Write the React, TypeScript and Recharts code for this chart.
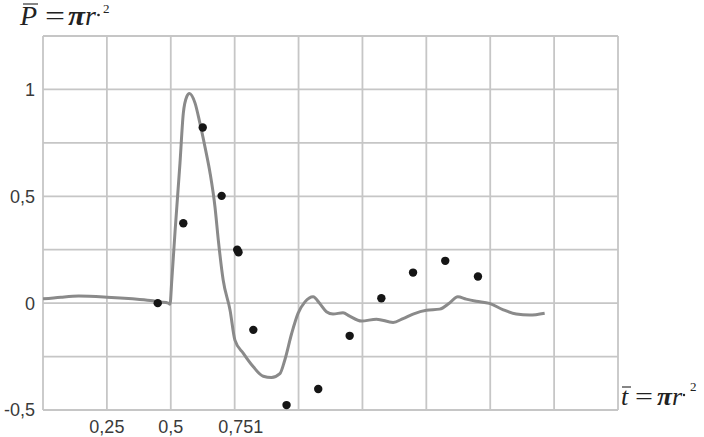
import React from 'react';
import { ComposedChart, Line, Scatter, XAxis, YAxis, CartesianGrid } from 'recharts';

// Continuous curve (t, P)
const curveT = [0, 0.07, 0.14, 0.25, 0.35, 0.42, 0.46, 0.49, 0.497, 0.504, 0.517, 0.536, 0.549, 0.5625, 0.573, 0.595, 0.614, 0.634, 0.654, 0.673, 0.686, 0.705, 0.732, 0.751, 0.784, 0.823, 0.862, 0.894, 0.927, 0.946, 0.973, 0.998, 1.025, 1.057, 1.083, 1.109, 1.135, 1.174, 1.2, 1.246, 1.305, 1.37, 1.409, 1.448, 1.5, 1.552, 1.591, 1.623, 1.656, 1.695, 1.747, 1.799, 1.852, 1.904, 1.963];
const curveP = [0.02, 0.028, 0.033, 0.028, 0.02, 0.012, 0.005, 0.0, -0.005, 0.108, 0.34, 0.655, 0.888, 0.966, 0.981, 0.936, 0.842, 0.73, 0.607, 0.45, 0.295, 0.108, -0.033, -0.173, -0.235, -0.298, -0.342, -0.348, -0.33, -0.267, -0.142, -0.048, 0.006, 0.03, -0.002, -0.04, -0.051, -0.045, -0.061, -0.084, -0.075, -0.09, -0.072, -0.051, -0.033, -0.028, 0.001, 0.03, 0.019, 0.009, -0.001, -0.03, -0.051, -0.056, -0.047];

// Measured points (t, P)
const pointT = [0.449, 0.549, 0.625, 0.699, 0.76, 0.765, 0.823, 0.953, 1.077, 1.2, 1.324, 1.448, 1.574, 1.702];
const pointP = [0.0, 0.374, 0.822, 0.502, 0.25, 0.238, -0.125, -0.477, -0.402, -0.153, 0.023, 0.143, 0.198, 0.125];

const xGridTicks = [0, 0.25, 0.5, 0.75, 1, 1.25, 1.5, 1.75, 2, 2.25];
const xTickValues = [0.25, 0.5, 0.75];
const xTickTexts = ['0,25', '0,5', '0,751'];
const yGridTicks = [-0.5, -0.25, 0, 0.25, 0.5, 0.75, 1, 1.25];
const yTickValues = [-0.5, 0, 0.5, 1];
const yTickTexts = ['-0,5', '0', '0,5', '1'];

const curveData = curveT.map((t, i) => ({ t, p: curveP[i] }));
const pointData = pointT.map((t, i) => ({ t, p: pointP[i] }));

const labelFont = '"Liberation Sans", Arial, sans-serif';
const textColor = '#3a3a3a';

const XTick = (props: any) => {
  const { x, y, payload } = props;
  const idx = xTickValues.indexOf(payload.value);
  if (idx < 0) return null;
  const dx = idx === 2 ? 6 : 0;
  return (
    <text x={x + dx} y={y} dy="0.71em" textAnchor="middle" fontSize={18} fontFamily={labelFont} fill={textColor}>
      {xTickTexts[idx]}
    </text>
  );
};

const YTick = (props: any) => {
  const { x, y, payload } = props;
  const idx = yTickValues.indexOf(payload.value);
  if (idx < 0) return null;
  return (
    <text x={x} y={y} dy="0.355em" textAnchor="end" fontSize={18} fontFamily={labelFont} fill={textColor}>
      {yTickTexts[idx]}
    </text>
  );
};

const Dot = (props: any) => {
  const { cx, cy } = props;
  return <circle cx={cx} cy={cy} r={4.2} fill="#151515" />;
};

const serif = '"Liberation Serif", "Times New Roman", serif';
const ink = '#222';

export default function App() {
  return (
    <div style={{ position: 'absolute', left: 0, top: 0, width: 704, height: 437, background: '#fff', overflow: 'hidden' }}>
      <ComposedChart width={704} height={437} margin={{ top: 36, right: 86, bottom: 0, left: 0 }}>
        <CartesianGrid stroke="#c6c6c6" strokeWidth={1.8} horizontalValues={yGridTicks} verticalValues={xGridTicks} />
        <XAxis
          type="number"
          dataKey="t"
          domain={[0, 2.25]}
          ticks={xGridTicks}
          interval={0}
          height={27}
          axisLine={false}
          tickLine={false}
          tickSize={0}
          tickMargin={10}
          tick={<XTick />}
          allowDataOverflow
        />
        <YAxis
          type="number"
          dataKey="p"
          domain={[-0.5, 1.25]}
          ticks={yGridTicks}
          interval={0}
          width={43}
          axisLine={false}
          tickLine={false}
          tickSize={0}
          tickMargin={8}
          tick={<YTick />}
          allowDataOverflow
        />
        <Line data={curveData} dataKey="p" type="monotone" stroke="#8a8a8a" strokeWidth={3} dot={false} isAnimationActive={false} />
        <Scatter data={pointData} dataKey="p" shape={<Dot />} isAnimationActive={false} />
      </ComposedChart>
      <svg width={704} height={437} style={{ position: 'absolute', left: 0, top: 0, pointerEvents: 'none' }}>
        <g fontFamily={serif} fill={ink}>
          <text x={20} y={25} fontSize={28} fontStyle="italic">P</text>
          <line x1={23} x2={38} y1={4} y2={4} stroke="#444" strokeWidth={1.3} />
          <text x={45} y={25} fontSize={28} textLength={20} lengthAdjust="spacingAndGlyphs">=</text>
          <text x={68} y={25} fontSize={28} fontStyle="italic" fontWeight="bold" textLength={17} lengthAdjust="spacingAndGlyphs">π</text>
          <text x={85} y={25} fontSize={28} fontStyle="italic">r</text>
          <circle cx={98.5} cy={15} r={1.3} fill={ink} />
          <text x={103} y={13} fontSize={13}>2</text>
        </g>
        <g fontFamily={serif} fill={ink}>
          <text x={621} y={405} fontSize={26} fontStyle="italic">t</text>
          <line x1={622} x2={631} y1={387} y2={387} stroke="#444" strokeWidth={1.3} />
          <text x={635} y={405} fontSize={26} textLength={18} lengthAdjust="spacingAndGlyphs">=</text>
          <text x={657} y={405} fontSize={26} fontStyle="italic" fontWeight="bold" textLength={15} lengthAdjust="spacingAndGlyphs">π</text>
          <text x={672} y={405} fontSize={26} fontStyle="italic">r</text>
          <circle cx={684} cy={395} r={1.2} fill={ink} />
          <text x={690} y={391} fontSize={13}>2</text>
        </g>
      </svg>
    </div>
  );
}
